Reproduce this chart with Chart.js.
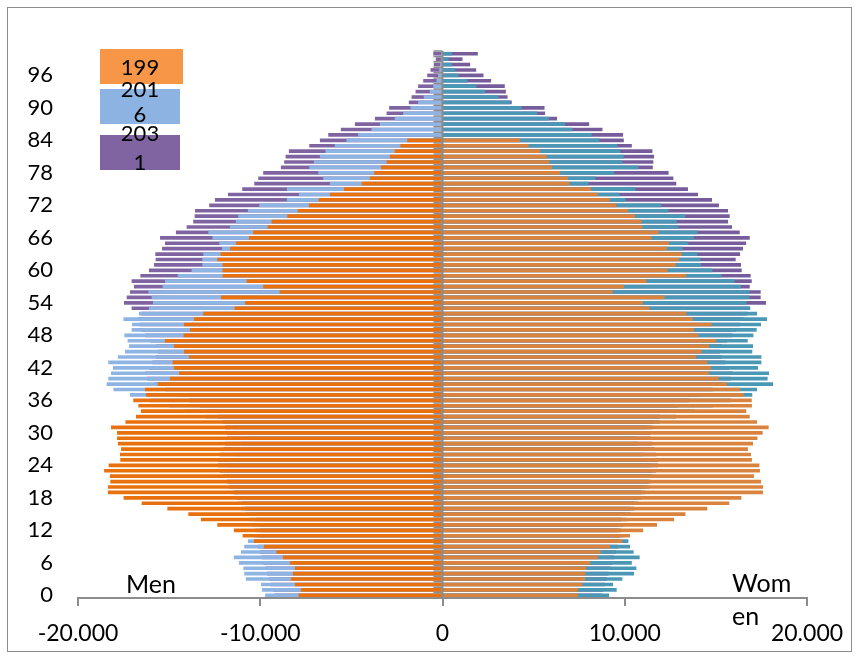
<!DOCTYPE html>
<html>
<head>
<meta charset="utf-8">
<script src="https://cdn.jsdelivr.net/npm/chart.js@4/dist/chart.umd.min.js"></script>
<style>
  html, body { margin: 0; padding: 0; background: #fff; }
  #wrap { position: relative; width: 861px; height: 659px; overflow: hidden; font-family: Lato, "Open Sans", sans-serif; }
  #c { position: absolute; left: 0; top: 0; }
  #frame { position: absolute; left: 7px; top: 7px; width: 843px; height: 643px; border: 1px solid #8c8c8c; pointer-events: none; }
  .box { position: absolute; }
  .t { position: absolute; color: #000; white-space: nowrap; text-align: center; }
</style>
</head>
<body>
<div id="wrap">
  <canvas id="c" width="861" height="659"></canvas>
  <div id="frame"></div>
  <div class="box" style="left:100px;top:49px;width:83px;height:35px;background:#F79646"></div>
  <div class="box" style="left:100px;top:89px;width:80px;height:35px;background:#8DB3E2"></div>
  <div class="box" style="left:100px;top:135px;width:80px;height:35px;background:#8064A2"></div>
  <div class="t" style="left:100px;width:80px;top:54px;font-size:22px;line-height:26px">199</div>
  <div class="t" style="left:100px;width:80px;top:76px;font-size:22px;line-height:26px">201</div>
  <div class="t" style="left:100px;width:80px;top:101px;font-size:22px;line-height:26px">6</div>
  <div class="t" style="left:100px;width:80px;top:120px;font-size:22px;line-height:26px">203</div>
  <div class="t" style="left:100px;width:80px;top:149px;font-size:22px;line-height:26px">1</div>
  <div class="t" style="left:126px;top:568px;font-size:25px;line-height:30px;text-align:left">Men</div>
  <div class="t" style="left:732px;top:567px;font-size:25px;line-height:30px;text-align:left">Wom</div>
  <div class="t" style="left:732px;top:600px;font-size:25px;line-height:30px;text-align:left">en</div>
</div>
<script>
const ages = ['0','1','2','3','4','5','6','7','8','9','10','11','12','13','14','15','16','17','18','19','20','21','22','23','24','25','26','27','28','29','30','31','32','33','34','35','36','37','38','39','40','41','42','43','44','45','46','47','48','49','50','51','52','53','54','55','56','57','58','59','60','61','62','63','64','65','66','67','68','69','70','71','72','73','74','75','76','77','78','79','80','81','82','83','84','85','86','87','88','89','90','91','92','93','94','95','96','97','98','99','100'];
const yTickLabels = ['0','6','12','18','24','30','36','42','48','54','60','66','72','78','84','90','96'];
const xTickValues = [-20000, -10000, 0, 10000, 20000];
const xTickLabels = ['-20.000', '-10.000', '0', '10.000', '20.000'];

const men1990 = [-7880,-7750,-8080,-8300,-8190,-8080,-8350,-8740,-9100,-9780,-10330,-10950,-11430,-12340,-13240,-13930,-15080,-16490,-17480,-18340,-18340,-18210,-18230,-18550,-18300,-17660,-17680,-17620,-17790,-17840,-17840,-18170,-17380,-16800,-16530,-16670,-16950,-16250,-16310,-15610,-14940,-14440,-14720,-14790,-13890,-14170,-14720,-15210,-14190,-13840,-14170,-13620,-13110,-11390,-10820,-12140,-8920,-9820,-10730,-12050,-12050,-12050,-12340,-12160,-11640,-11320,-10600,-10370,-9580,-9360,-8500,-7930,-7310,-6780,-6160,-5390,-4420,-3970,-3730,-3360,-3050,-2870,-2600,-2290,-1920,null,null,null,null,null,null,null,null,null,null,null,null,null,null,null,null];
const women1990 = [7400,7420,7660,7810,7820,7860,8080,8500,8650,9180,9850,10270,10990,11750,12690,13310,14510,15720,16380,17570,17570,17460,17070,17400,17370,16960,16910,16740,17020,17260,17550,17880,17240,16840,16650,16960,16950,16510,16310,15580,15140,14610,14720,14510,13890,14200,14610,14990,14020,13780,14750,13710,13360,11330,10970,12160,9320,9940,11170,13340,12340,12780,12960,13110,12300,12410,11460,11830,10950,10900,10550,10150,9520,9160,8500,8140,6950,6860,6440,6000,5850,5700,5340,4700,4240,null,null,null,null,null,null,null,null,null,null,null,null,null,null,null,null];
const men2016 = [-9710,-9890,-9940,-10770,-10860,-10910,-11150,-11430,-11040,-10860,-10660,-10300,-10250,-10400,-10600,-10800,-11000,-11200,-11300,-11500,-11700,-11800,-11900,-11900,-11800,-11600,-11400,-11200,-11000,-10900,-11000,-11400,-12100,-13000,-14100,-15000,-16000,-17130,-18040,-18410,-18320,-18170,-18060,-18320,-17790,-17400,-17180,-17260,-17440,-17040,-17020,-17490,-16640,-16090,-15870,-15940,-16120,-15340,-15210,-14510,-13750,-13160,-13160,-13110,-12080,-12230,-12600,-12830,-11640,-11320,-11190,-10660,-10040,-8520,-7860,-8520,-6160,-6530,-6800,-7290,-7040,-6710,-6400,-5890,-5250,-4610,-3880,-3420,-2600,-2140,-1740,-1320,-1010,-680,-490,-310,-220,-160,-110,-70,-50];
const women2016 = [9120,9540,9340,9850,10490,10620,10370,10800,10470,10270,10180,9900,9800,9900,10100,10300,10500,10700,10900,11100,11300,11400,11500,11500,11400,11200,11000,10800,10700,10600,10800,11200,11900,12800,13800,14800,15800,16980,17240,18120,17820,17900,17290,17480,17480,16980,17020,16730,17040,17220,17460,17790,17240,16870,16670,16820,16820,16360,16000,15280,14790,14170,14130,13970,13160,13470,13770,13970,12920,12830,13290,12380,11990,10020,9690,10570,7990,8370,9400,10730,9850,9930,9740,9580,8590,8170,7110,6710,5830,5190,4330,3690,3050,2320,1830,1350,860,680,490,310,490];
const men2031 = [-9200,-9300,-9400,-9500,-9600,-9700,-9800,-9900,-10000,-10100,-10200,-10100,-10000,-10000,-10200,-10500,-10800,-11000,-11200,-11400,-11600,-11800,-12000,-12200,-12300,-12300,-12200,-12000,-11900,-11800,-11800,-11900,-12000,-12300,-12800,-13300,-13900,-14500,-15200,-15800,-16200,-16300,-16100,-15900,-15700,-15600,-15700,-16000,-16300,-16500,-16600,-16700,-16500,-17040,-17460,-17310,-17130,-16910,-17040,-16560,-16090,-15810,-15720,-15740,-15370,-15210,-15480,-14610,-14020,-13660,-13580,-13560,-12780,-12470,-11750,-10970,-10310,-10090,-9820,-8850,-8670,-8590,-8410,-7290,-6710,-6250,-5560,-4790,-3690,-3050,-2910,-1830,-1680,-1460,-1320,-1040,-820,-640,-460,-350,-490];
const women2031 = [8700,8800,8900,9000,9100,9200,9300,9400,9500,9600,9700,9700,9600,9600,9800,10000,10300,10500,10700,10900,11100,11300,11500,11700,11800,11800,11700,11600,11500,11400,11400,11500,11600,11900,12400,12900,13500,14100,14800,15400,15800,15900,15700,15500,15300,15200,15300,15600,15900,16100,16300,16500,16700,16800,17730,17440,17440,16840,16950,16890,16400,16360,16070,16310,16470,16640,16840,16290,15870,15650,15740,15650,15150,14770,14000,13450,12810,12650,12390,11520,11550,11590,11500,10370,9930,9890,8760,8030,6270,5610,5580,3780,3550,3460,3400,2650,2230,1830,1500,1080,1920];

const FONT = 'Lato, "Open Sans", sans-serif';
const AXIS_GREY = '#8c8c8c';

const centerAxis = {
  id: 'centerAxis',
  afterDatasetsDraw(chart) {
    const { ctx, chartArea, scales: { x, y } } = chart;
    const x0 = x.getPixelForValue(0);
    const step = Math.abs(y.getPixelForValue(1) - y.getPixelForValue(0));
    ctx.save();
    ctx.strokeStyle = AXIS_GREY;
    ctx.lineWidth = 1.5;
    ctx.beginPath();
    for (let i = 0; i < ages.length; i++) {
      const yb = y.getPixelForValue(i) + step / 2;
      ctx.moveTo(x0 - 9, yb);
      ctx.lineTo(x0, yb);
    }
    const yt = y.getPixelForValue(ages.length - 1) - step / 2;
    ctx.moveTo(x0 - 9, yt);
    ctx.lineTo(x0, yt);
    ctx.stroke();
    ctx.lineWidth = 2;
    ctx.beginPath();
    ctx.moveTo(x0, chartArea.top);
    ctx.lineTo(x0, chartArea.bottom);
    ctx.stroke();
    ctx.restore();
  }
};

function ds(label, data, color) {
  return { label, data, backgroundColor: color, borderWidth: 0, grouped: false, barThickness: 3 };
}

new Chart(document.getElementById('c'), {
  type: 'bar',
  data: {
    labels: ages,
    datasets: [
      ds('Men 1990', men1990, '#E8710E'),
      ds('Women 1990', women1990, '#D9833F'),
      ds('Men 2016', men2016, '#8EB4E3'),
      ds('Women 2016', women2016, '#4A98B5'),
      ds('Men 2031', men2031, '#8064A2'),
      ds('Women 2031', women2031, '#775C9B')
    ]
  },
  options: {
    indexAxis: 'y',
    responsive: false,
    animation: false,
    events: [],
    layout: { padding: { top: 51, right: 54, left: 0, bottom: 0 } },
    plugins: { legend: { display: false }, tooltip: { enabled: false } },
    scales: {
      x: {
        type: 'linear',
        min: -20000, max: 20000,
        afterBuildTicks: (s) => { s.ticks = xTickValues.map(v => ({ value: v })); },
        ticks: {
          callback: (v) => xTickLabels[xTickValues.indexOf(v)],
          font: { family: FONT, size: 23 },
          color: '#000',
          padding: 14,
          maxRotation: 0
        },
        grid: { drawOnChartArea: false, drawTicks: true, tickLength: 8, color: AXIS_GREY, lineWidth: 2 },
        border: { display: true, color: AXIS_GREY, width: 2 },
        afterFit: (s) => { s.height = 61; }
      },
      y: {
        type: 'category',
        reverse: true,
        offset: true,
        grid: { display: false, drawTicks: false },
        border: { display: false },
        ticks: {
          autoSkip: false,
          callback: (v, i) => (yTickLabels.includes(ages[i]) ? ages[i] : ''),
          font: { family: FONT, size: 22 },
          color: '#000',
          padding: 25
        },
        afterFit: (s) => { s.width = 78; }
      }
    }
  },
  plugins: [centerAxis]
});
</script>
</body>
</html>
